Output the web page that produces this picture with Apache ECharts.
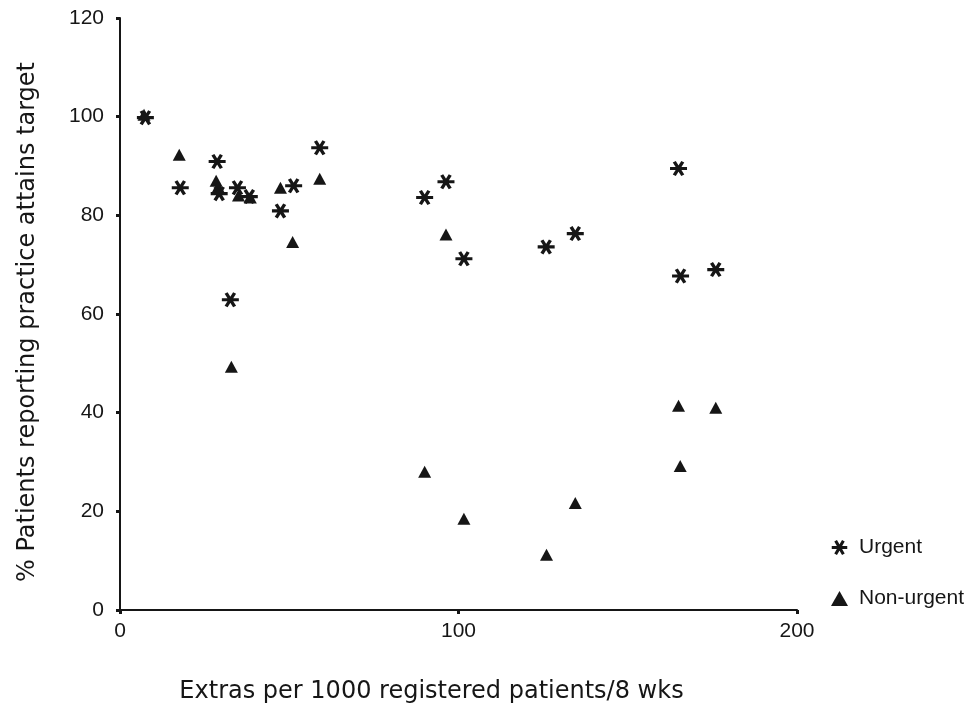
<!DOCTYPE html>
<html>
<head>
<meta charset="utf-8">
<script src="https://cdn.jsdelivr.net/npm/echarts@6/dist/echarts.min.js"></script>
<style>
html,body{margin:0;padding:0;background:#fff;}
#chart{width:974px;height:714px;}
</style>
</head>
<body>
<div id="chart"></div>
<script>
// Data
const urgentX = [7.5, 17.8, 28.7, 29.3, 34.7, 38.2, 32.6, 47.4, 51.3, 59, 90, 96.3, 101.6, 125.9, 134.5, 165, 165.6, 176];
const urgentY = [99.8, 85.6, 90.9, 84.4, 85.6, 83.8, 62.9, 80.9, 86, 93.7, 83.6, 86.8, 71.2, 73.6, 76.3, 89.5, 67.7, 69];
const nonUrgentX = [7.1, 17.5, 28.4, 29, 35, 38.5, 32.9, 47.4, 51, 59, 90, 96.3, 101.6, 126, 134.5, 165, 165.5, 176];
const nonUrgentY = [100.4, 92.3, 87, 85.8, 84, 83.6, 49.3, 85.6, 74.6, 87.4, 28, 76.1, 18.5, 11.2, 21.7, 41.4, 29.2, 41];
const xTicks = [0, 100, 200];
const yTicks = [0, 20, 40, 60, 80, 100, 120];
const seriesNames = ['Urgent', 'Non-urgent'];
const xTitle = 'Extras per 1000 registered patients/8 wks';
const yTitle = '% Patients reporting practice attains target';

const asterisk = 'path://M0 40 L100 40 L100 60 L0 60 Z M16.3 11.6 L33.7 1.6 L83.7 88.4 L66.3 98.4 Z M33.7 98.4 L16.3 88.4 L66.3 1.6 L83.7 11.6 Z';
const font = 'Liberation Sans, Arial, Helvetica, sans-serif';
const titleFont = 'DejaVu Sans, Verdana, sans-serif';
const ink = '#161616';

const chart = echarts.init(document.getElementById('chart'), null, {renderer: 'canvas'});
chart.setOption({
  animation: false,
  backgroundColor: '#ffffff',
  textStyle: {fontFamily: font, color: ink},
  grid: {left: 120, right: 177, top: 18, bottom: 104, containLabel: false},
  legend: {
    orient: 'vertical',
    left: 826,
    top: 532,
    itemGap: 30,
    itemWidth: 17,
    itemHeight: 15,
    textStyle: {fontFamily: font, fontSize: 21, color: ink, padding: [0, 0, 0, 6]},
    data: [
      {name: seriesNames[0], icon: asterisk},
      {name: seriesNames[1], icon: 'triangle'}
    ]
  },
  xAxis: {
    type: 'value',
    min: xTicks[0],
    max: xTicks[xTicks.length - 1],
    interval: 100,
    name: xTitle,
    nameLocation: 'middle',
    nameGap: 70,
    nameTextStyle: {fontFamily: titleFont, fontSize: 24, color: ink, padding: [0, 54, 0, 0]},
    axisLine: {show: true, lineStyle: {color: ink, width: 2}},
    axisTick: {show: true, length: 4, lineStyle: {color: ink, width: 3}},
    axisLabel: {fontFamily: font, fontSize: 21, color: ink, margin: 11},
    splitLine: {show: false}
  },
  yAxis: {
    type: 'value',
    min: yTicks[0],
    max: yTicks[yTicks.length - 1],
    interval: 20,
    name: yTitle,
    nameLocation: 'middle',
    nameGap: 80,
    nameTextStyle: {fontFamily: titleFont, fontSize: 24, color: ink, padding: [0, 16, 0, 0]},
    axisLine: {show: true, lineStyle: {color: ink, width: 2}},
    axisTick: {show: true, length: 4, lineStyle: {color: ink, width: 3}},
    axisLabel: {fontFamily: font, fontSize: 21, color: ink, margin: 16},
    splitLine: {show: false}
  },
  series: [
    {
      name: seriesNames[0],
      type: 'scatter',
      symbol: asterisk,
      symbolSize: [17, 15],
      itemStyle: {color: ink, opacity: 1},
      data: urgentX.map((x, i) => [x, urgentY[i]]),
      z: 3
    },
    {
      name: seriesNames[1],
      type: 'scatter',
      symbol: 'triangle',
      symbolSize: [13, 12],
      itemStyle: {color: ink, opacity: 1},
      data: nonUrgentX.map((x, i) => [x, nonUrgentY[i]]),
      z: 2
    }
  ]
});
</script>
</body>
</html>
